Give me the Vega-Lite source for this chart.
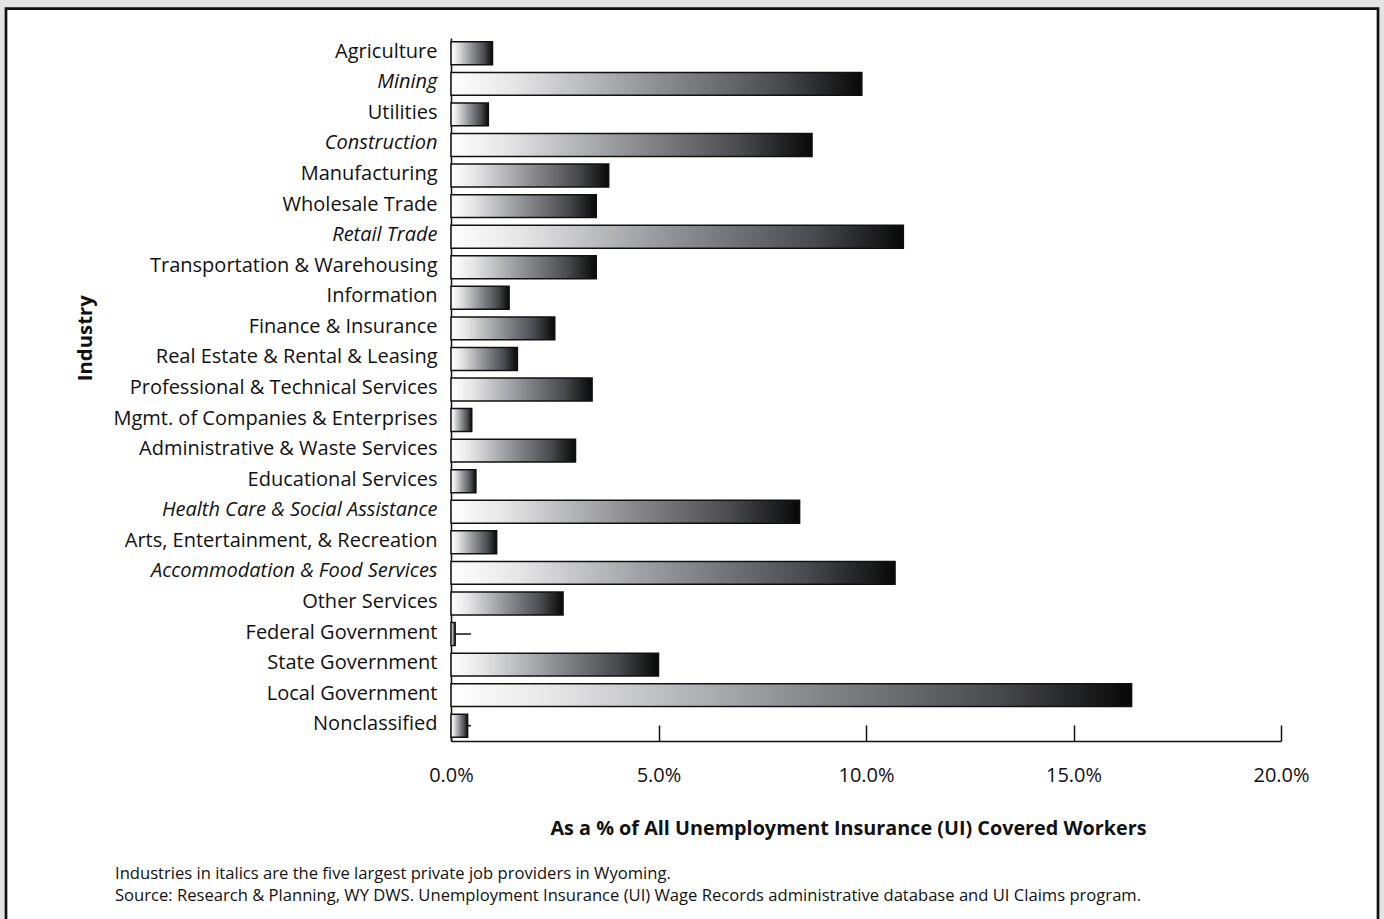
{
  "$schema": "https://vega.github.io/schema/vega-lite/v6.json",
  "autosize": {"type": "none"},
  "width": 1372,
  "height": 914.3,
  "padding": {"left": 6, "top": 8.7, "right": 6, "bottom": -4},
  "background": "#e4e4e4",
  "view": {"fill": "#ffffff", "stroke": "#111111", "strokeWidth": 2.7},
  "title": {
    "text": [
      "Industries in italics are the five largest private job providers in Wyoming.",
      "Source:  Research & Planning, WY DWS. Unemployment Insurance (UI) Wage Records administrative database and UI Claims program."
    ],
    "orient": "bottom",
    "anchor": "start",
    "frame": "group",
    "offset": 0,
    "baseline": "top",
    "dx": 109,
    "dy": -57,
    "lineHeight": 22,
    "font": "Open Sans",
    "fontSize": 16.6,
    "fontWeight": "normal",
    "color": "#111111"
  },
  "data": {
    "values": [
      {"industry": "Agriculture", "pct": 1.0},
      {"industry": "Mining", "pct": 9.9},
      {"industry": "Utilities", "pct": 0.9},
      {"industry": "Construction", "pct": 8.7},
      {"industry": "Manufacturing", "pct": 3.8},
      {"industry": "Wholesale Trade", "pct": 3.5},
      {"industry": "Retail Trade", "pct": 10.9},
      {"industry": "Transportation & Warehousing", "pct": 3.5},
      {"industry": "Information", "pct": 1.4},
      {"industry": "Finance & Insurance", "pct": 2.5},
      {"industry": "Real Estate & Rental & Leasing", "pct": 1.6},
      {"industry": "Professional & Technical Services", "pct": 3.4},
      {"industry": "Mgmt. of Companies & Enterprises", "pct": 0.5},
      {"industry": "Administrative & Waste Services", "pct": 3.0},
      {"industry": "Educational Services", "pct": 0.6},
      {"industry": "Health Care & Social Assistance", "pct": 8.4},
      {"industry": "Arts, Entertainment, & Recreation", "pct": 1.1},
      {"industry": "Accommodation & Food Services", "pct": 10.7},
      {"industry": "Other Services", "pct": 2.7},
      {"industry": "Federal Government", "pct": 0.1, "whisker": 0.48},
      {"industry": "State Government", "pct": 5.0},
      {"industry": "Local Government", "pct": 16.4},
      {"industry": "Nonclassified", "pct": 0.4, "whisker": 0.48}
    ]
  },
  "encoding": {
    "y": {
      "field": "industry",
      "type": "nominal",
      "sort": null,
      "scale": {"range": [29.3, 732.3], "paddingInner": 0.25, "paddingOuter": 0.125},
      "axis": {
        "title": "Industry",
        "orient": "left",
        "offset": -445,
        "domain": true,
        "domainColor": "#111111",
        "domainWidth": 1.5,
        "ticks": false,
        "grid": false,
        "labelPadding": 14,
        "labelOffset": -1.5,
        "labelLimit": 0,
        "labelFont": "Open Sans",
        "labelFontSize": 20,
        "labelColor": "#111111",
        "labelFontStyle": {
          "condition": {
            "test": "indexof(['Mining', 'Construction', 'Retail Trade', 'Health Care & Social Assistance', 'Accommodation & Food Services'], datum.value) >= 0",
            "value": "italic"
          },
          "value": "normal"
        },
        "titleFont": "Open Sans",
        "titleFontSize": 20.4,
        "titleFontWeight": "bold",
        "titleColor": "#111111",
        "titleAngle": -90,
        "titleAlign": "center",
        "titleBaseline": "middle",
        "titleX": -366,
        "titleY": 329
      }
    }
  },
  "layer": [
    {
      "mark": {
        "type": "bar",
        "stroke": "#111111",
        "strokeWidth": 1.5,
        "fill": {
          "gradient": "linear",
          "x1": 0, "y1": 0, "x2": 1, "y2": 0,
          "stops": [
            {"offset": 0, "color": "#ffffff"},
            {"offset": 0.15, "color": "#e6e6e7"},
            {"offset": 0.5, "color": "#8e8f93"},
            {"offset": 0.8, "color": "#4a4b4e"},
            {"offset": 1, "color": "#080808"}
          ]
        }
      },
      "encoding": {
        "x": {
          "field": "pct",
          "type": "quantitative",
          "scale": {"domain": [0, 20], "range": [445, 1275], "nice": false, "zero": true},
          "axis": {
            "title": "As a % of All Unemployment Insurance (UI) Covered Workers",
            "orient": "bottom",
            "offset": -182,
            "values": [0, 5, 10, 15, 20],
            "labelExpr": "format(datum.value, '.1f') + '%'",
            "labelFlush": false,
            "domain": true,
            "domainColor": "#111111",
            "domainWidth": 1.5,
            "ticks": true,
            "tickSize": -16,
            "tickColor": "#111111",
            "tickWidth": 1.5,
            "grid": false,
            "labelPadding": 40,
            "labelFont": "Open Sans",
            "labelFontSize": 20,
            "labelColor": "#111111",
            "titleFont": "Open Sans",
            "titleFontSize": 19.8,
            "titleFontWeight": "bold",
            "titleColor": "#111111",
            "titleX": 842,
            "titleY": 87,
            "titleBaseline": "middle",
            "titleAlign": "center"
          }
        }
      }
    },
    {
      "transform": [{"filter": "isValid(datum.whisker)"}],
      "mark": {"type": "rule", "stroke": "#111111", "strokeWidth": 1.5},
      "encoding": {
        "x": {"field": "pct", "type": "quantitative"},
        "x2": {"field": "whisker"}
      }
    }
  ]
}
